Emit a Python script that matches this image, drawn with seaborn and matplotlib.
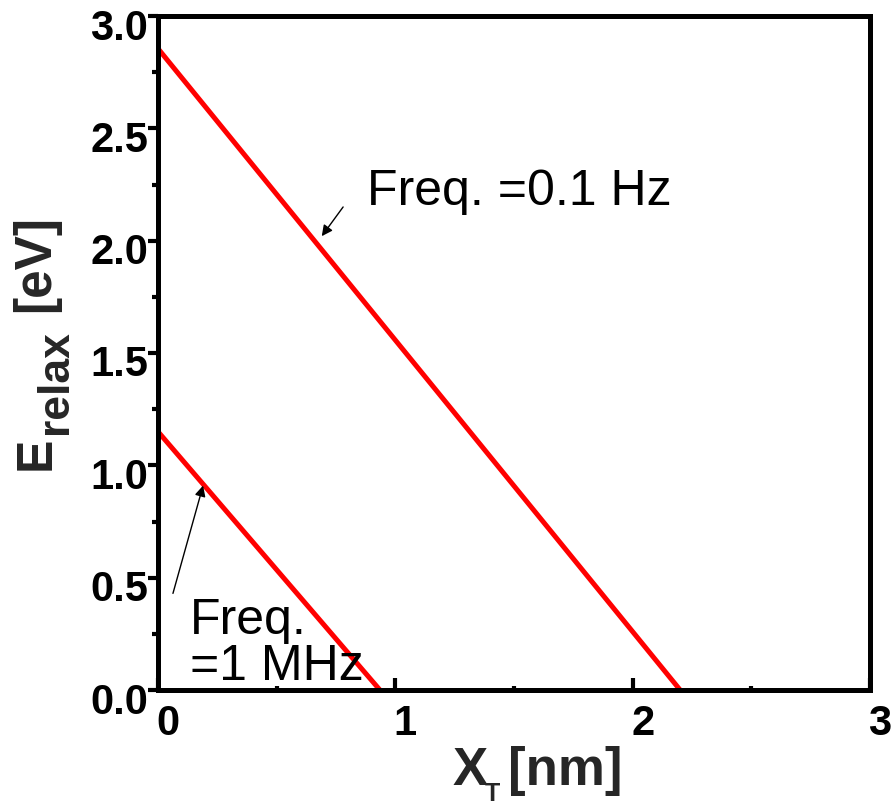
import numpy as np
import pandas as pd
import matplotlib
matplotlib.use('Agg')
import matplotlib.pyplot as plt
import matplotlib.transforms as mtransforms
import seaborn as sns

# line end points (x_T in nm, E_relax in eV)
x_low = [0.0, 0.935]
e_low = [1.15, 0.0]
x_high = [0.0, 2.2]
e_high = [2.855, 0.0]

x_ticks = [0, 1, 2, 3]
y_ticks = [0.0, 0.5, 1.0, 1.5, 2.0, 2.5, 3.0]

sns.set_theme(style='white')
plt.rcParams['font.family'] = ['Liberation Sans', 'DejaVu Sans']

df = pd.concat([
    pd.DataFrame({'x': x_low, 'E': e_low, 'f': '1 MHz'}),
    pd.DataFrame({'x': x_high, 'E': e_high, 'f': '0.1 Hz'}),
])

W, H = 895, 808
fig = plt.figure(figsize=(W / 100, H / 100), dpi=100)
ax = fig.add_axes([158 / W, 118 / H, 712 / W, 674 / H])
sns.lineplot(data=df, x='x', y='E', units='f', estimator=None,
             color='#ff0000', linewidth=3.6, ax=ax, legend=False)

ax.set_xlim(0, 3)
ax.set_ylim(0, 3)
ax.set_xticks(x_ticks)
ax.set_yticks(y_ticks)
ax.set_xticklabels([str(t) for t in x_ticks])
ax.set_yticklabels([f'{t:.1f}' for t in y_ticks])
ax.set_xticks([0.5, 1.5, 2.5], minor=True)
ax.set_yticks([0.25, 0.75, 1.25, 1.75, 2.25, 2.75], minor=True)
ax.set_xlabel('')
ax.set_ylabel('')

for s in ax.spines.values():
    s.set_color('black')
    s.set_linewidth(3.6)

ax.tick_params(axis='x', which='major', direction='in', length=9, width=3,
               labelsize=30, pad=10, color='black', bottom=True)
ax.tick_params(axis='x', which='minor', direction='in', length=3, width=3,
               color='black', bottom=True)
ax.tick_params(axis='y', which='major', direction='out', length=7, width=3,
               labelsize=30, pad=0, color='black', left=True)
ax.tick_params(axis='y', which='minor', direction='out', length=4, width=3,
               color='black', left=True)
for lab in ax.get_xticklabels() + ax.get_yticklabels():
    lab.set_fontweight('bold')
    lab.set_color('black')

# labels sit a little right / below their ticks in the original
dx = mtransforms.ScaledTranslation(10 / 100, 0, fig.dpi_scale_trans)
for lab in ax.get_xticklabels():
    lab.set_transform(lab.get_transform() + dx)
dy = mtransforms.ScaledTranslation(0, -8 / 100, fig.dpi_scale_trans)
for lab in ax.get_yticklabels():
    lab.set_transform(lab.get_transform() + dy)

# axis titles built from pieces so the subscripts sit like the original
fig.text(453 / W, (H - 785) / H, 'X', fontsize=38, fontweight='bold',
         ha='left', va='baseline')
fig.text(485 / W, 2 / H, 'T', fontsize=18, fontweight='bold',
         ha='left', va='bottom')
fig.text(508 / W, (H - 785) / H, '[nm]', fontsize=38, fontweight='bold',
         ha='left', va='baseline')

fig.text(60 / W, (H - 470) / H, 'E', fontsize=36, fontweight='bold',
         rotation=90, ha='right', va='bottom')
fig.text(76 / W, (H - 434) / H, 'relax', fontsize=32, fontweight='bold',
         rotation=90, ha='right', va='bottom')
fig.text(60 / W, (H - 312) / H, '[eV]', fontsize=37, fontweight='bold',
         rotation=90, ha='right', va='bottom')

# annotations
ax.text(0.88, 2.158, 'Freq. =0.1 Hz', fontsize=36, color='black',
        ha='left', va='baseline')
ax.annotate('', xy=(0.69, 2.02), xytext=(0.78, 2.15),
            arrowprops=dict(arrowstyle='-|>', color='black', lw=1,
                            mutation_scale=16, shrinkA=0, shrinkB=0))
ax.annotate('', xy=(0.19, 0.91), xytext=(0.063, 0.43),
            arrowprops=dict(arrowstyle='-|>', color='black', lw=1,
                            mutation_scale=16, shrinkA=0, shrinkB=0))
ax.text(0.135, 0.045, 'Freq.\n=1 MHz', fontsize=36, color='black',
        ha='left', va='baseline', linespacing=1.0)

fig.savefig('out.png', dpi=100)
